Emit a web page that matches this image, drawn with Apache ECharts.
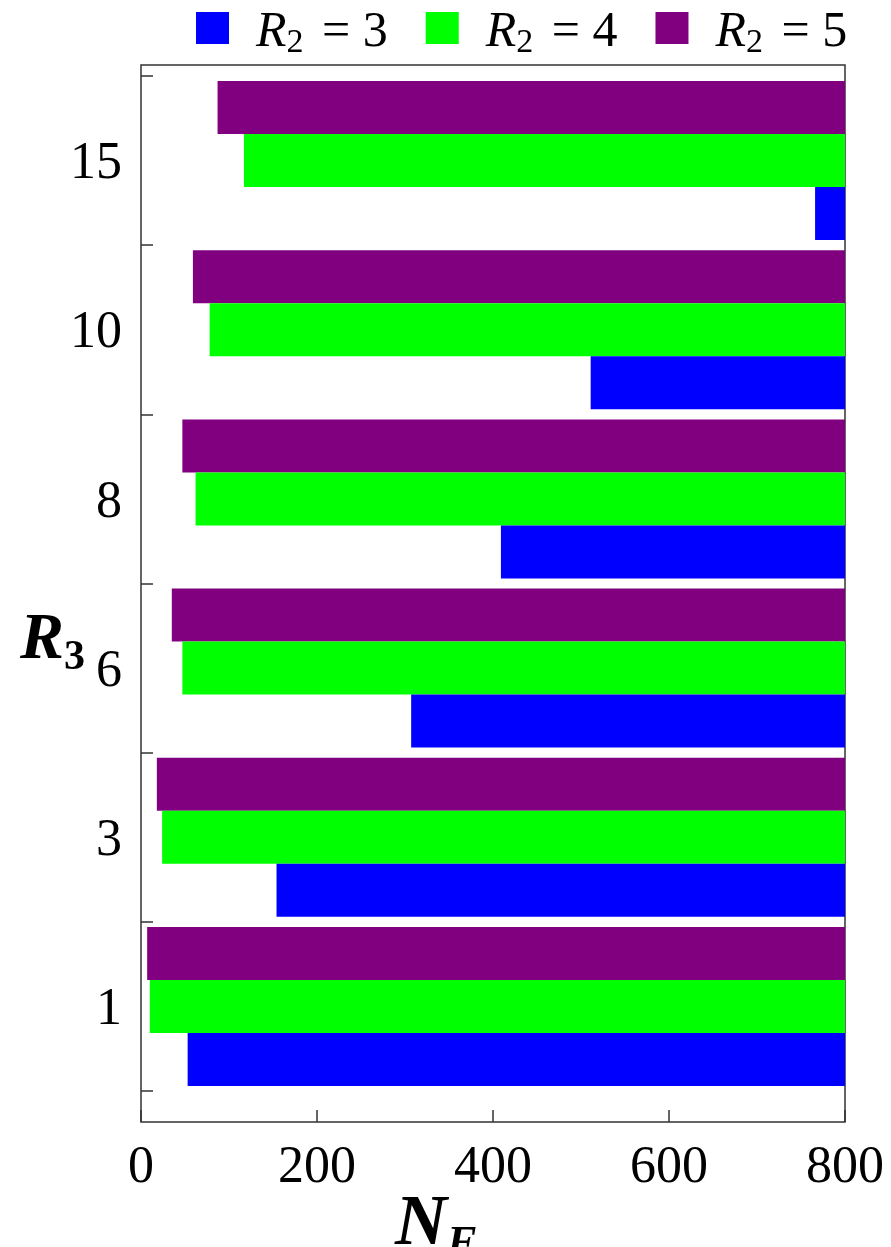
<!DOCTYPE html>
<html>
<head>
<meta charset="utf-8">
<script src="https://cdn.jsdelivr.net/npm/echarts@6/dist/echarts.min.js"></script>
<style>
  html, body { margin: 0; padding: 0; background: #fff; }
  #chart { width: 891px; height: 1247px; }
</style>
</head>
<body>
<div id="chart"></div>
<script>
// R3 categories, bottom to top
var r3Labels = ['1', '3', '6', '8', '10', '15'];
// N_F where each bar starts (bars run out to 800)
var nfR2_3 = [53, 154, 307, 409, 511, 766];
var nfR2_4 = [10, 24, 47, 62, 78, 117];
var nfR2_5 = [7, 18, 35, 47, 59, 87];
var xTicks = [0, 200, 400, 600, 800];
var seriesNames = ['R2 = 3', 'R2 = 4', 'R2 = 5'];
var seriesColors = ['#0000ff', '#00ff00', '#800080'];

var xMax = xTicks[xTicks.length - 1];
var serif = 'Liberation Serif';

var chart = echarts.init(document.getElementById('chart'));

var allData = [nfR2_3, nfR2_4, nfR2_5];
var series = [];
// echarts puts the first series at the top of each band, so go purple -> blue
[2, 1, 0].forEach(function (i) {
  var vals = allData[i];
  // invisible part from 0 to the start value
  series.push({
    type: 'bar',
    stack: 's' + i,
    silent: true,
    itemStyle: { color: 'transparent' },
    data: vals
  });
  // visible part from start to 800
  series.push({
    name: seriesNames[i],
    type: 'bar',
    stack: 's' + i,
    itemStyle: { color: seriesColors[i] },
    data: vals.map(function (v) { return xMax - v; })
  });
});
series[0].barCategoryGap = '6%';
series[0].barGap = '0%';

chart.setOption({
  animation: false,
  backgroundColor: '#fff',
  title: [
    {
      text: '{r|R}{s|3}',
      left: 15,
      top: 598,
      textStyle: {
        rich: {
          r: { fontFamily: serif, fontStyle: 'italic', fontWeight: 'bold', fontSize: 66, color: '#000' },
          s: { fontFamily: serif, fontWeight: 'bold', fontSize: 42, color: '#000', padding: [34, 0, 0, 0] }
        }
      }
    },
    {
      text: '{r|N}{s|F}',
      left: 390,
      top: 1178,
      textStyle: {
        rich: {
          r: { fontFamily: serif, fontStyle: 'italic', fontWeight: 'bold', fontSize: 72, color: '#000' },
          s: { fontFamily: serif, fontStyle: 'italic', fontWeight: 'bold', fontSize: 44, color: '#000', padding: [40, 0, 0, 0] }
        }
      }
    }
  ],
  legend: {
    top: 3,
    left: 191,
    icon: 'rect',
    itemWidth: 33,
    itemHeight: 32,
    itemGap: 38,
    data: seriesNames,
    formatter: function (name) {
      var n = name.split(' = ')[1];
      return '{i|R}{s|2}{t| = }{n|' + n + '}';
    },
    textStyle: {
      padding: [10, 0, 0, 22],
      rich: {
        i: { fontFamily: serif, fontStyle: 'italic', fontSize: 50, color: '#000' },
        s: { fontFamily: serif, fontSize: 34, color: '#000', padding: [20, 0, 0, 0] },
        t: { fontFamily: serif, fontSize: 50, color: '#000', padding: [0, 0, 0, 6] },
        n: { fontFamily: serif, fontSize: 50, color: '#000' }
      }
    }
  },
  grid: [
    { left: 141, right: 46, top: 76, bottom: 156 },
    { left: 141, right: 46, top: 65, bottom: 125, show: true, borderColor: '#333', borderWidth: 1.5, backgroundColor: 'transparent' }
  ],
  xAxis: [
    {
      type: 'value',
      gridIndex: 0,
      min: 0,
      max: xMax,
      interval: 200,
      offset: 31,
      axisLine: { show: false },
      axisTick: { show: true, inside: true, length: 12, lineStyle: { color: '#333', width: 1.5 } },
      splitLine: { show: false },
      axisLabel: { margin: 20, fontFamily: serif, fontSize: 52, color: '#000' }
    },
    { type: 'value', gridIndex: 1, show: false }
  ],
  yAxis: [
    {
      type: 'category',
      gridIndex: 0,
      data: r3Labels,
      axisLine: { show: false },
      axisTick: { show: true, inside: true, length: 12, lineStyle: { color: '#333', width: 1.5 } },
      axisLabel: {
        margin: 19,
        formatter: function (v) { return '{a|' + v + '}'; },
        rich: { a: { fontFamily: serif, fontSize: 52, color: '#000', padding: [8, 0, 0, 0] } }
      }
    },
    { type: 'value', gridIndex: 1, show: false }
  ],
  series: series
});
</script>
</body>
</html>
